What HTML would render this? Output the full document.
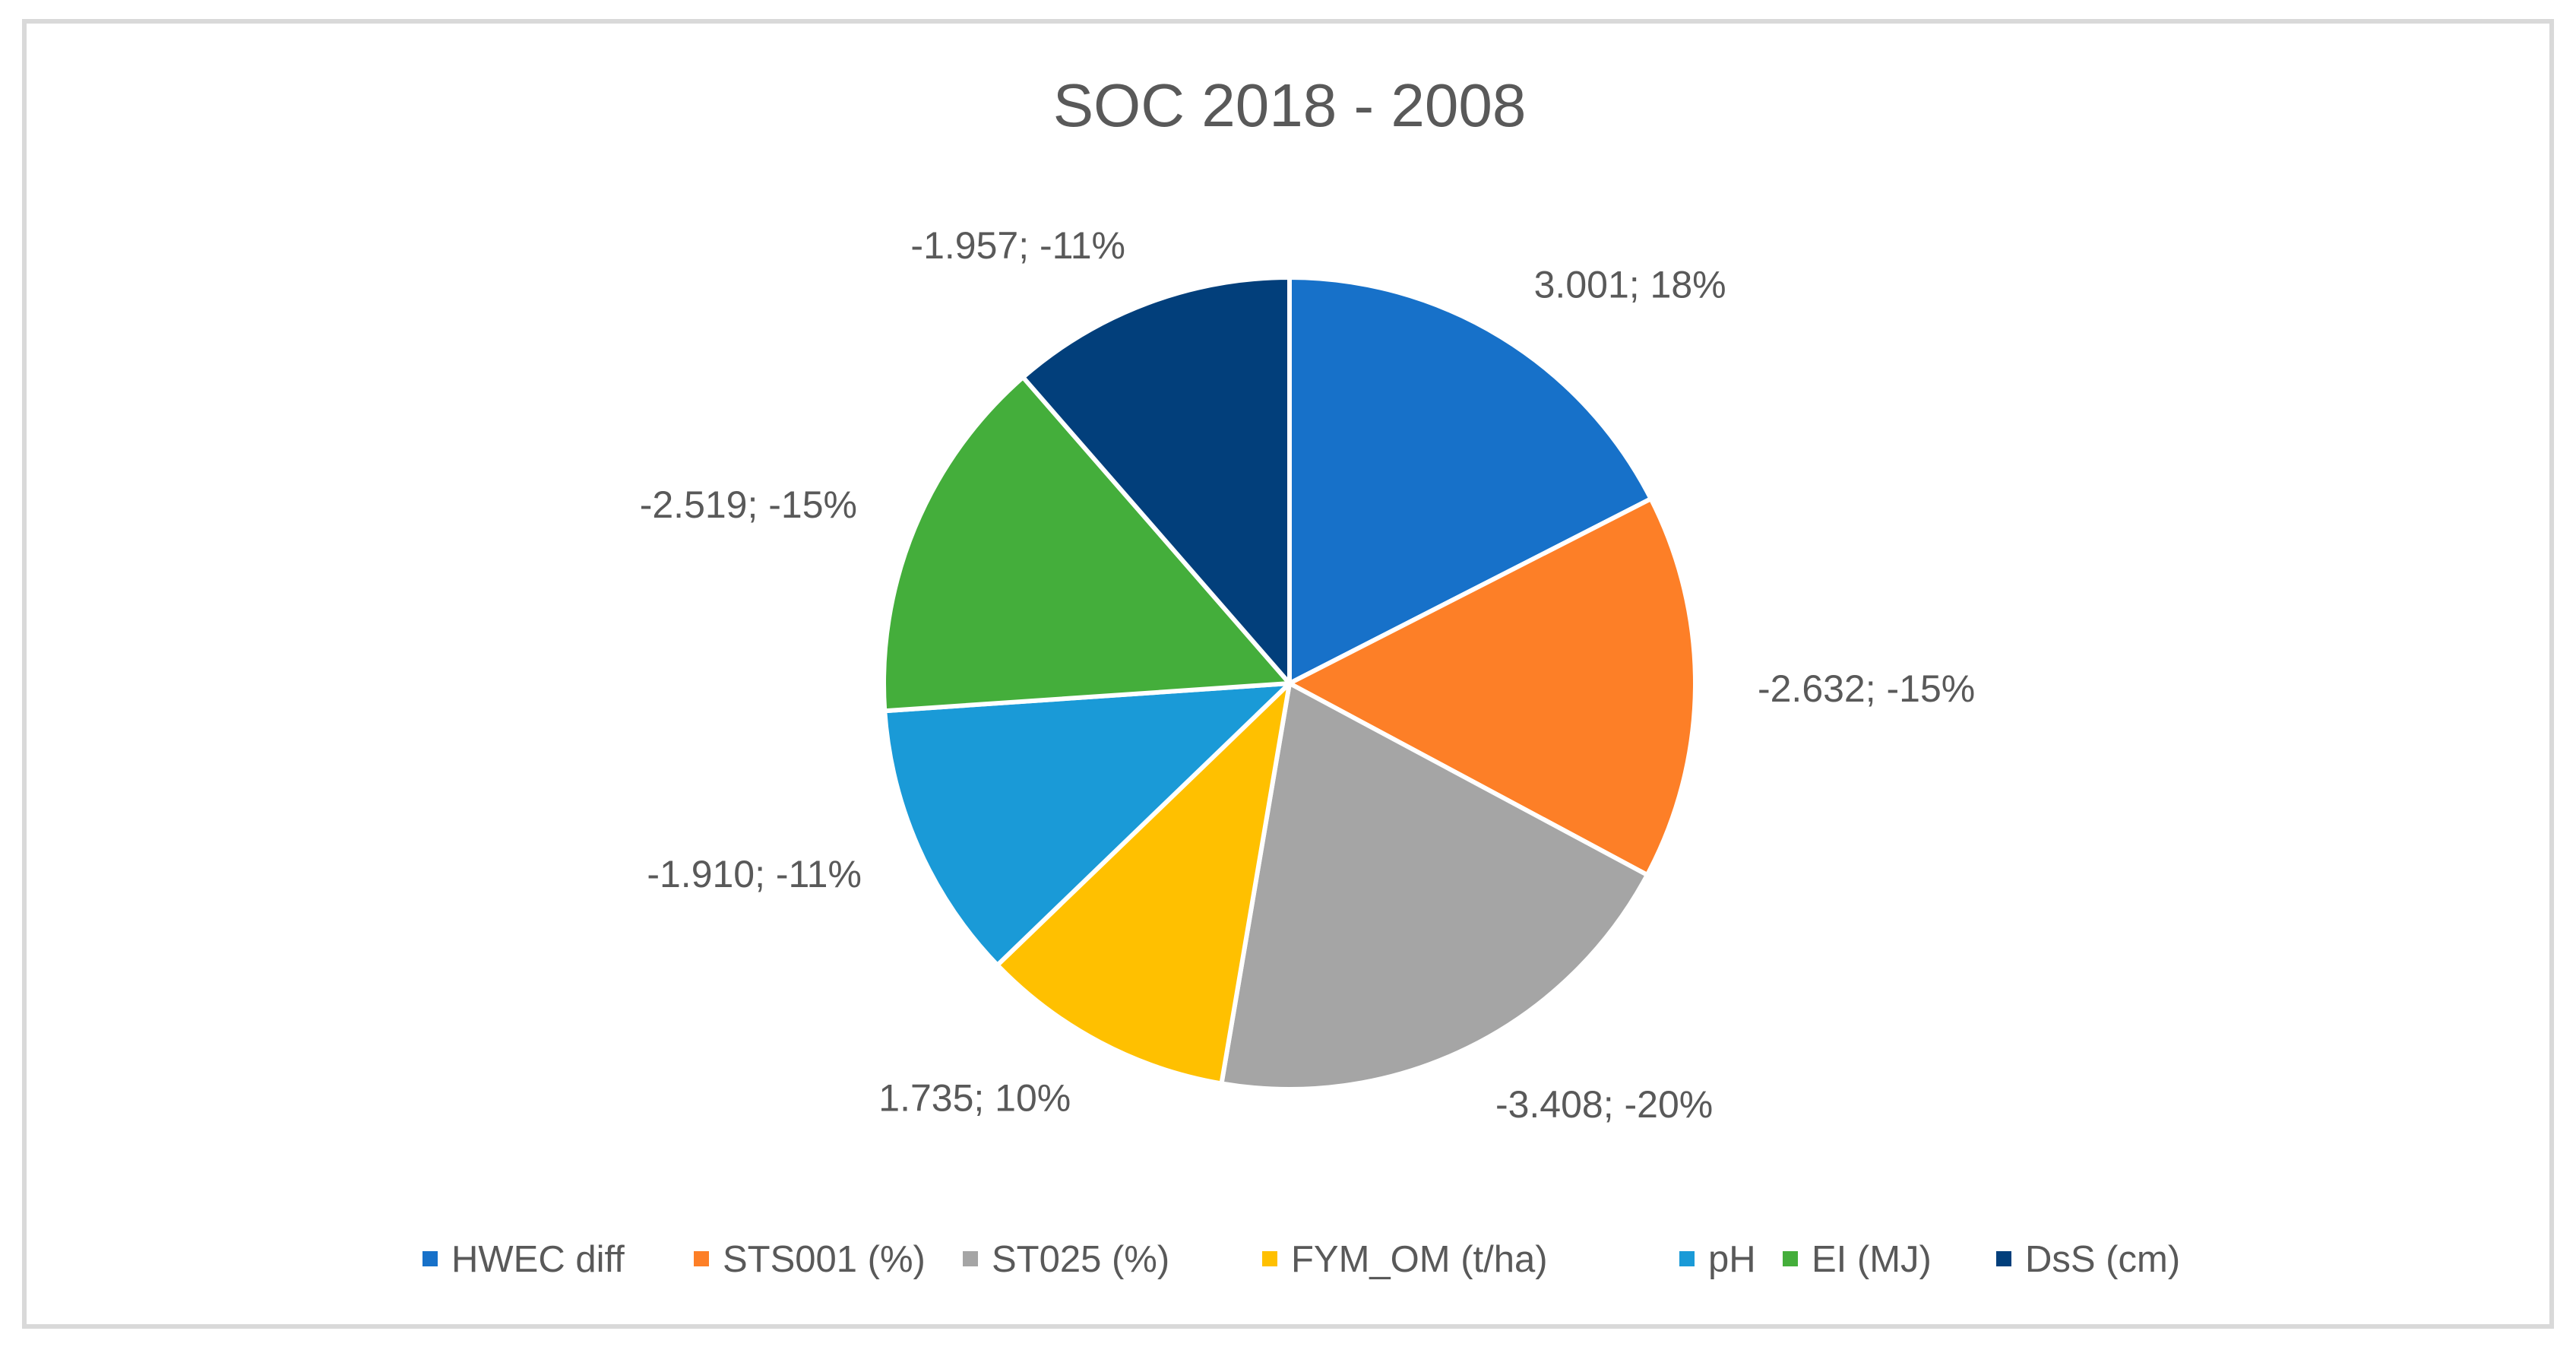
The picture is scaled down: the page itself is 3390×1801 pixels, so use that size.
<!DOCTYPE html>
<html><head><meta charset="utf-8"><style>
html,body{margin:0;padding:0;background:#fff;}
svg{display:block;font-family:"Liberation Sans",sans-serif;}
</style></head><body>
<svg id="chart" width="3390" height="1801" viewBox="0 0 3390 1801">
<rect x="32" y="28" width="3326" height="1717" fill="#fff" stroke="#d9d9d9" stroke-width="6"/>
<text x="1697" y="166" font-size="80" fill="#595959" text-anchor="middle">SOC 2018 - 2008</text>
<g id="slices"></g>
<g id="labels"></g>
<g id="legend"></g>
</svg>
<script>
const categories = ["HWEC diff","STS001 (%)","ST025 (%)","FYM_OM (t/ha)","pH","EI (MJ)","DsS (cm)"];
const values = [3.001,-2.632,-3.408,1.735,-1.910,-2.519,-1.957];
const percentLabels = ["18%","-15%","-20%","10%","-11%","-15%","-11%"];
const colors = ["#1771c9","#fd7f27","#a5a5a5","#ffc000","#1a9ad7","#44ae3b","#023f7b"];
const legendX = [556,913,1267,1661,2210,2346,2627];

const NS="http://www.w3.org/2000/svg";
const cx=1697, cy=899, r=534;
const total=values.reduce((a,v)=>a+Math.abs(v),0);
const gS=document.getElementById('slices'), gL=document.getElementById('labels'), gG=document.getElementById('legend');
function pt(a,rad){return [cx+rad*Math.sin(a), cy-rad*Math.cos(a)];}
let cum=0;
values.forEach((v,i)=>{
  const frac=Math.abs(v)/total;
  const a0=cum*2*Math.PI, a1=(cum+frac)*2*Math.PI;
  cum+=frac;
  const p0=pt(a0,r), p1=pt(a1,r);
  const large=(a1-a0)>Math.PI?1:0;
  const path=document.createElementNS(NS,'path');
  path.setAttribute('d',`M${cx},${cy} L${p0[0]},${p0[1]} A${r},${r} 0 ${large} 1 ${p1[0]},${p1[1]} Z`);
  path.setAttribute('fill',colors[i]);
  path.setAttribute('stroke','#fff');
  path.setAttribute('stroke-width','6');
  path.setAttribute('stroke-linejoin','round');
  
  
  gS.appendChild(path);
  const am=(a0+a1)/2;
  const dx=Math.sin(am);
  const ap=pt(am,r+82);
  const t=document.createElementNS(NS,'text');
  t.setAttribute('x',ap[0]);
  t.setAttribute('y',ap[1]+18);
  t.setAttribute('font-size','50');
  t.setAttribute('fill','#595959');
  t.setAttribute('text-anchor',dx>0.1?'start':(dx<-0.1?'end':'middle'));
  t.textContent=v.toFixed(3)+'; '+percentLabels[i];
  
  
  gL.appendChild(t);
  const g=document.createElementNS(NS,'g');
  
  
  const m=document.createElementNS(NS,'rect');
  m.setAttribute('x',legendX[i]); m.setAttribute('y',1646);
  m.setAttribute('width',20); m.setAttribute('height',20);
  m.setAttribute('fill',colors[i]);
  
  
  const lt=document.createElementNS(NS,'text');
  lt.setAttribute('x',legendX[i]+38); lt.setAttribute('y',1673);
  lt.setAttribute('font-size','49'); lt.setAttribute('fill','#595959');
  lt.textContent=categories[i];
  
  
  g.appendChild(m); g.appendChild(lt); gG.appendChild(g);
});
</script>
</body></html>
